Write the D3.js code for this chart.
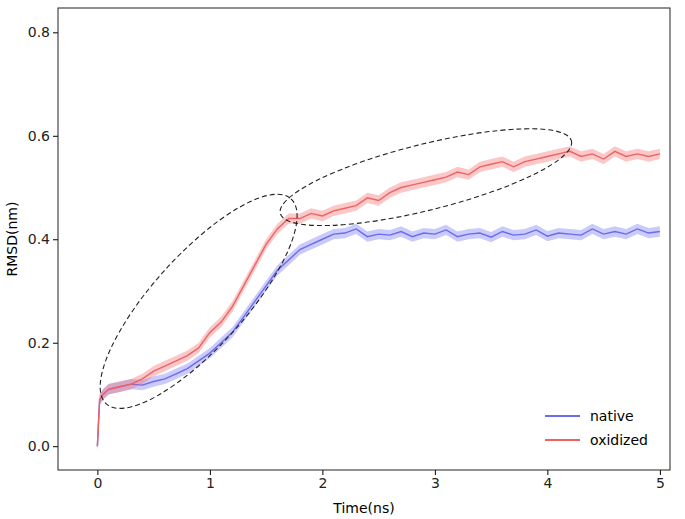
<!DOCTYPE html>
<html><head><meta charset="utf-8">
<script src="https://cdn.jsdelivr.net/npm/d3@7"></script>
<style>body{margin:0;background:#fff;font-family:"DejaVu Sans",sans-serif;}</style>
</head><body><svg id="chart" width="685" height="519"></svg>
<script>
// values (time in ns, RMSD in nm)
const nativeT = [0,0.02,0.05,0.1,0.2,0.3,0.4,0.5,0.6,0.7,0.8,0.9,1.0,1.1,1.2,1.3,1.4,1.5,1.6,1.7,1.8,1.9,2.0,2.1,2.2,2.3,2.4,2.5,2.6,2.7,2.8,2.9,3.0,3.1,3.2,3.3,3.4,3.5,3.6,3.7,3.8,3.9,4.0,4.1,4.2,4.3,4.4,4.5,4.6,4.7,4.8,4.9,5.0];
const nativeV = [0,0.09,0.1,0.11,0.115,0.12,0.118,0.125,0.13,0.14,0.15,0.165,0.18,0.2,0.22,0.25,0.28,0.31,0.34,0.36,0.38,0.39,0.40,0.41,0.412,0.42,0.405,0.41,0.408,0.415,0.405,0.412,0.41,0.418,0.405,0.41,0.412,0.404,0.415,0.408,0.41,0.418,0.406,0.412,0.41,0.408,0.42,0.41,0.415,0.41,0.42,0.412,0.415];
const oxT = [0,0.02,0.05,0.1,0.2,0.3,0.4,0.5,0.6,0.7,0.8,0.9,1.0,1.1,1.2,1.3,1.4,1.5,1.6,1.7,1.8,1.9,2.0,2.1,2.2,2.3,2.4,2.5,2.6,2.7,2.8,2.9,3.0,3.1,3.2,3.3,3.4,3.5,3.6,3.7,3.8,3.9,4.0,4.1,4.2,4.3,4.4,4.5,4.6,4.7,4.8,4.9,5.0];
const oxV = [0,0.09,0.1,0.11,0.115,0.12,0.13,0.145,0.155,0.165,0.175,0.19,0.22,0.24,0.27,0.31,0.35,0.39,0.42,0.44,0.44,0.45,0.445,0.455,0.46,0.465,0.48,0.475,0.49,0.5,0.505,0.51,0.515,0.52,0.53,0.525,0.54,0.545,0.55,0.54,0.55,0.555,0.56,0.565,0.57,0.56,0.565,0.555,0.57,0.56,0.565,0.56,0.565];
const xTicks = [0,1,2,3,4,5];
const yTicks = [0.0,0.2,0.4,0.6,0.8];
const seriesNames = ["native","oxidized"];
const seriesColors = ["#6a6af2","#f06262"];

const svg = d3.select("#chart");
const m = {left:58, right:15, top:8, bottom:49};
const W = 685, H = 519;
const x = d3.scaleLinear().domain([-0.35,5.09]).range([m.left, W-m.right]);
const y = d3.scaleLinear().domain([-0.046,0.847]).range([H-m.bottom, m.top]);

const series = [
  {t:nativeT, v:nativeV},
  {t:oxT, v:oxV}
];
series.forEach((s,i) => {
  const pts = s.t.map((t,j) => ({t, v:s.v[j]}));
  svg.append("path").datum(pts)
    .attr("fill", seriesColors[i]).attr("opacity",0.35)
    .attr("d", d3.area().x(d=>x(d.t)).y0(d=>y(d.v-0.01)).y1(d=>y(d.v+0.01)));
  svg.append("path").datum(pts)
    .attr("fill","none").attr("stroke",seriesColors[i]).attr("stroke-width",1.4)
    .attr("d", d3.line().x(d=>x(d.t)).y(d=>y(d.v)));
});

// dashed ellipses
const ell = [
  {cx:0.9, cy:0.28, rx:138, ry:46, rot:-48},
  {cx:2.92, cy:0.52, rx:150, ry:33, rot:-14}
];
ell.forEach(e => {
  svg.append("ellipse")
    .attr("transform", `translate(${x(e.cx)},${y(e.cy)}) rotate(${e.rot})`)
    .attr("rx", e.rx).attr("ry", e.ry)
    .attr("fill","none").attr("stroke","#222").attr("stroke-width",1.1)
    .attr("stroke-dasharray","5,3");
});

// axes
const xa = svg.append("g").attr("transform",`translate(0,${H-m.bottom})`)
  .call(d3.axisBottom(x).tickValues(xTicks).tickFormat(d3.format("d")).tickSize(5).tickSizeOuter(0));
const ya = svg.append("g").attr("transform",`translate(${m.left},0)`)
  .call(d3.axisLeft(y).tickValues(yTicks).tickFormat(d3.format(".1f")).tickSize(5).tickSizeOuter(0));
[xa,ya].forEach(a => {
  a.selectAll("text").attr("font-size",14).attr("fill","#222").attr("font-family","DejaVu Sans");
  a.select(".domain").remove();
});
svg.append("rect").attr("x",m.left).attr("y",m.top)
  .attr("width",W-m.left-m.right).attr("height",H-m.top-m.bottom)
  .attr("fill","none").attr("stroke","#222").attr("stroke-width",1);

svg.append("text").attr("x",(m.left+W-m.right)/2).attr("y",H-6)
  .attr("text-anchor","middle").attr("font-size",14).text("Time(ns)");
svg.append("text").attr("transform",`translate(17,${(m.top+H-m.bottom)/2}) rotate(-90)`)
  .attr("text-anchor","middle").attr("font-size",14).text("RMSD(nm)");

// legend
seriesNames.forEach((n,i) => {
  const ly = 416 + i*24;
  svg.append("line").attr("x1",545).attr("x2",580).attr("y1",ly).attr("y2",ly)
    .attr("stroke",seriesColors[i]).attr("stroke-width",2);
  svg.append("text").attr("x",590).attr("y",ly+5).attr("font-size",14).text(n);
});
</script></body></html>
